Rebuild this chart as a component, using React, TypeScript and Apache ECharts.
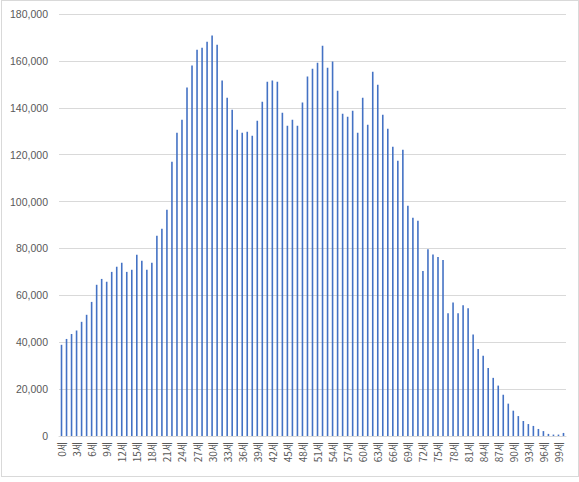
import React, { useEffect, useRef } from "react";
import * as echarts from "echarts";

// Population by single year of age (0세 … 100세 이상)
const ages0to19 = [38900, 41400, 43500, 45000, 48700, 51700, 57200, 64500, 67000, 65800, 70000, 72200, 73900, 70000, 70900, 77300, 74700, 70900, 73900, 85400];
const ages20to39 = [88400, 96500, 117000, 129400, 134900, 148600, 158000, 164800, 165600, 168200, 170800, 166900, 151600, 144300, 139200, 130600, 129400, 129800, 128100, 134500];
const ages40to59 = [142600, 151100, 151600, 151100, 137900, 132300, 134900, 132300, 142200, 153300, 156700, 159200, 166500, 157100, 159700, 147300, 137500, 136200, 138700, 129400];
const ages60to79 = [144300, 132800, 155400, 149800, 137000, 131100, 123400, 117400, 122100, 98200, 93100, 91800, 70400, 79700, 77400, 76400, 75100, 52400, 56900, 52400];
const ages80plus = [55800, 54500, 43300, 37100, 34200, 29000, 24800, 21500, 17600, 13800, 10800, 8500, 6400, 5100, 4300, 3000, 2100, 900, 600, 600, 1300];

const values = [...ages0to19, ...ages20to39, ...ages40to59, ...ages60to79, ...ages80plus];
const categories = values.map((_, i) => (i === 100 ? "100세 이상" : `${i}세`));

const yMin = 0;
const yMax = 180000;
const yStep = 20000;

export default function App() {
  const ref = useRef<HTMLDivElement>(null);

  useEffect(() => {
    document.body.style.margin = "0";
    if (!ref.current) return;
    const chart = echarts.init(ref.current, undefined, { renderer: "svg" });
    chart.setOption({
      animation: false,
      backgroundColor: "#ffffff",
      grid: { left: 59, right: 13, top: 14, bottom: 46 },
      xAxis: {
        type: "category",
        data: categories,
        boundaryGap: true,
        axisLine: { show: true, lineStyle: { color: "#d9d9d9", width: 1 } },
        axisTick: { show: false },
        axisLabel: {
          interval: 2,
          rotate: 90,
          margin: 6,
          color: "#595959",
          fontSize: 10,
          fontFamily: "'Noto Sans CJK KR', 'Noto Sans', sans-serif",
        },
        splitLine: { show: false },
      },
      yAxis: {
        type: "value",
        min: yMin,
        max: yMax,
        interval: yStep,
        axisLine: { show: false },
        axisTick: { show: false },
        axisLabel: {
          margin: 11,
          color: "#595959",
          fontSize: 10.5,
          fontFamily: "'Liberation Sans', Arial, sans-serif",
          formatter: (v: number) => v.toLocaleString("en-US"),
        },
        splitLine: { show: true, lineStyle: { color: "#d9d9d9", width: 1 } },
      },
      series: [
        {
          type: "bar",
          data: values,
          barWidth: 1.6,
          itemStyle: { color: "#4472c4" },
        },
      ],
    });
    return () => chart.dispose();
  }, []);

  return (
    <div style={{ position: "absolute", left: 0, top: 0, width: 579, height: 482, background: "#fff" }}>
      <div
        style={{
          position: "absolute",
          left: 1,
          top: 0,
          width: 578,
          height: 477,
          border: "1px solid #d9d9d9",
          boxSizing: "border-box",
          pointerEvents: "none",
          zIndex: 2,
        }}
      />
      <div ref={ref} style={{ position: "absolute", left: 0, top: 0, width: 579, height: 482 }} />
    </div>
  );
}
